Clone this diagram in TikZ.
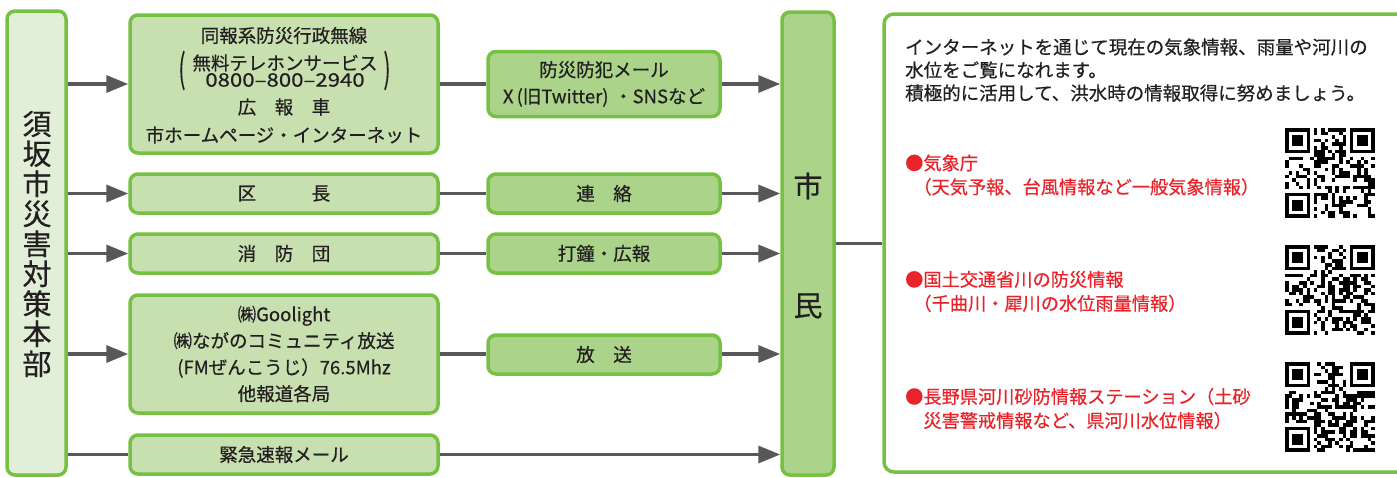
\documentclass[tikz,border=0pt]{standalone}
\usepackage{fontspec}
\setmainfont{Noto Sans CJK JP}[FakeBold=0.5]
\usetikzlibrary{arrows.meta}
\definecolor{bord}{HTML}{76C043}
\definecolor{fillL}{HTML}{E1EFD8}
\definecolor{fillA}{HTML}{C8E0AF}
\definecolor{fillB}{HTML}{ABD48A}
\definecolor{arr}{HTML}{58585A}
\definecolor{txt}{HTML}{231F20}
\definecolor{redt}{HTML}{E8242A}
\newcommand\myqr[3]{%
  \begin{scope}[shift={(#1,#2)}]
    \pgfmathsetseed{#3}
    \foreach \i in {0,...,24}{
      \foreach \j in {0,...,24}{
        \pgfmathtruncatemacro\qbit{int(1.9*rnd)}
        \pgfmathtruncatemacro\qin{((\i<8)&&(\j<8)) || ((\i>16)&&(\j<8)) || ((\i<8)&&(\j>16))}
        \ifnum\qbit=1 \ifnum\qin=0 \fill[black] (\i*3.6,\j*3.6) rectangle ++(3.65,3.65);\fi\fi
      }}
    \foreach \a/\b in {0/0,18/0,0/18}{
      \fill[black] (\a*3.6,\b*3.6) rectangle ++(25.2,25.2);
      \fill[white] (\a*3.6+3.6,\b*3.6+3.6) rectangle ++(18,18);
      \fill[black] (\a*3.6+7.2,\b*3.6+7.2) rectangle ++(10.8,10.8);
    }
  \end{scope}}
\tikzset{
  gbox/.style={draw=bord, line width=3.5pt, rounded corners=8pt, inner sep=0pt, text=txt,
    align=center, font=\fontsize{18.5}{26.5}\selectfont},
  lbox/.style={gbox, fill=fillL},
  abox/.style={gbox, fill=fillA},
  bbox/.style={gbox, fill=fillB},
  lab/.style={text=txt, font=\fontsize{18.5}{26}\selectfont, inner sep=0pt, align=center},
  info/.style={text=txt, font=\fontsize{18.5}{23}\selectfont, inner sep=0pt, align=left, anchor=west},
  redinfo/.style={info, text=redt, font=\fontsize{18.2}{24}\selectfont},
  conn/.style={draw=arr, line width=3.5pt},
  arrow/.style={conn, -{Triangle[length=22pt,width=17pt]}},
}
\begin{document}
\begin{tikzpicture}[x=1pt,y=-1pt]
\useasboundingbox (0,0) rectangle (1397,477);
\clip (0,0) rectangle (1397,477);
% left box
\node[lbox, minimum width=59pt, minimum height=464pt] (L) at (36.5,243) {};
\node[lab, font=\fontsize{29}{30}\selectfont] (Lt) at (37,244) {須\\坂\\市\\災\\害\\対\\策\\本\\部};
% citizens box
\node[bbox, minimum width=52pt, minimum height=463pt] (M) at (808,243.5) {};
\node[lab, font=\fontsize{29}{30}\selectfont] (m1) at (808,186) {市};
\node[lab, font=\fontsize{29}{30}\selectfont] (m2) at (808,306) {民};
% column 1
\node[abox, minimum width=308pt, minimum height=138pt] (b1) at (284,84) {};
\node[lab] (t11) at (284,35.5) {同報系防災行政無線};
\node[lab] (t12) at (285,63) {無料テレホンサービス};
\node[lab] (t13) at (285,80) {\scalebox{1.2}[1]{0800–800–2940}};
\node[lab] (pl) at (182,70.5) {\scalebox{1.1}[2.1]{(}};
\node[lab] (pr) at (387,70.5) {\scalebox{1.1}[2.1]{)}};
\node[lab] (t14) at (284,107) {広　報　車};
\node[lab] (t15) at (284,135) {市ホームページ・インターネット};
\node[abox, minimum width=308pt, minimum height=39pt] (b2) at (284,193.5) {区　　　長};
\node[abox, minimum width=308pt, minimum height=39pt] (b3) at (284,253.5) {消　防　団};
\node[abox, minimum width=308pt, minimum height=118pt] (b4) at (284,354) {㈱Goolight\\㈱ながのコミュニティ放送\\(FMぜんこうじ）76.5Mhz\\他報道各局};
\node[abox, minimum width=308pt, minimum height=39pt] (b5) at (284,454.5) {緊急速報メール};
% column 2
\node[bbox, minimum width=232pt, minimum height=65pt] (c1) at (604,84) {防災防犯メール\\X\,(旧Twitter)\hspace{0.3em}・SNSなど};
\node[bbox, minimum width=232pt, minimum height=39pt] (c2) at (604,193.5) {連　絡};
\node[bbox, minimum width=232pt, minimum height=39pt] (c3) at (604,253.5) {打鐘・広報};
\node[bbox, minimum width=232pt, minimum height=39pt] (c4) at (604,354.5) {放　送};
% connectors
\foreach \b/\c in {b1/c1,b2/c2,b3/c3,b4/c4}{
  \draw[arrow] (L.east |- \b.west) -- (\b.west);
  \draw[conn] (\b.east) -- (\c.west |- \b.east);
  \draw[arrow] (\c.east |- \b.east) -- (M.west |- \b.east);
}
\draw[conn] (L.east |- b5.west) -- (b5.west);
\draw[arrow] (b5.east) -- (M.west |- b5.east);
% info box
\node[draw=bord, line width=3.5pt, rounded corners=10pt, fill=white, minimum width=536pt, minimum height=458pt] (I) at (1152,243) {};
\draw[conn] (M.east) -- (M.east -| I.west);
\node[info] (i0) at (905,70) {インターネットを通じて現在の気象情報、雨量や河川の\\水位をご覧になれます。\\積極的に活用して、洪水時の情報取得に努めましょう。};
\node[redinfo] (r1) at (905,175) {●気象庁\\\hspace*{0.45em}（天気予報、台風情報など一般気象情報）};
\node[redinfo] (r2) at (905,291.5) {●国土交通省川の防災情報\\\hspace*{0.45em}（千曲川・犀川の水位雨量情報）};
\node[redinfo] (r3) at (905,408.5) {●長野県河川砂防情報ステーション（土砂\\\hspace*{1em}災害警戒情報など、県河川水位情報）};
\myqr{1285}{128}{11}
\myqr{1285}{245}{23}
\myqr{1285}{362}{37}
\end{tikzpicture}
\end{document}
